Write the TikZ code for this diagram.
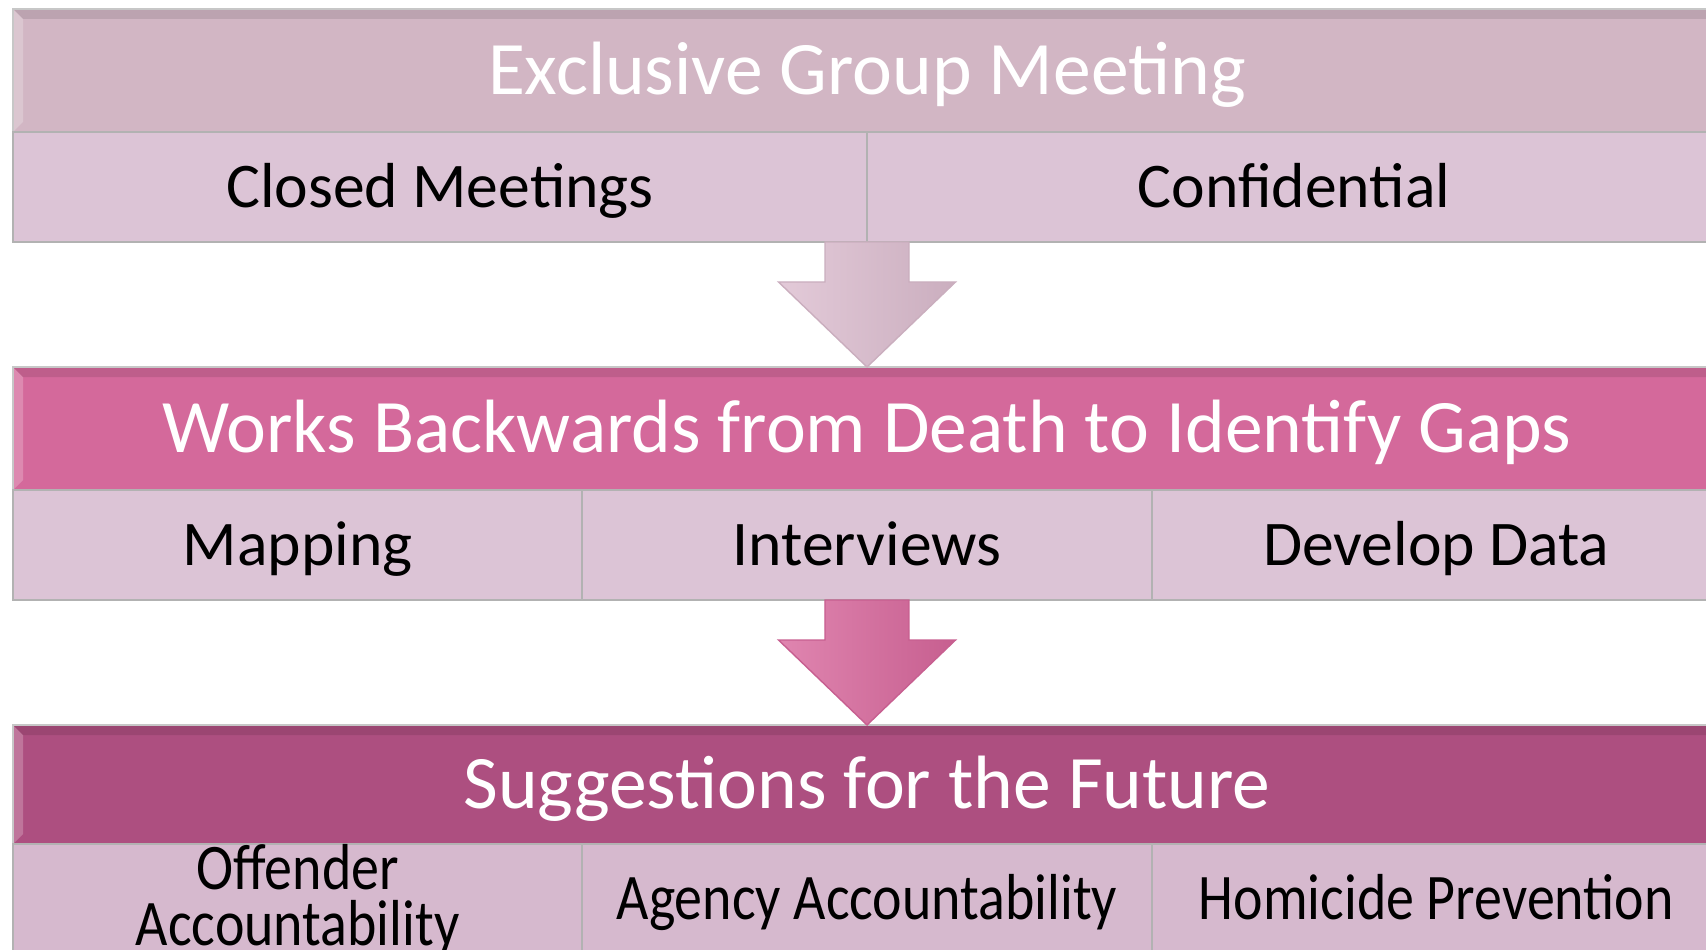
\documentclass[tikz,border=0pt]{standalone}
\usepackage{fontspec}
\setmainfont{Carlito}
\usetikzlibrary{positioning,calc}

\definecolor{headA}{HTML}{D2B6C4}
\definecolor{headB}{HTML}{D4699B}
\definecolor{headC}{HTML}{AD4F80}
\definecolor{cellA}{HTML}{DCC4D6}
\definecolor{cellC}{HTML}{D6B9CE}
\definecolor{arrowA}{HTML}{DCBDCF}
\definecolor{arrowB}{HTML}{D8679C}

\tikzset{
  head/.style={rectangle, draw=black!22, line width=0.6pt, outer sep=0pt,
    minimum width=17.08cm, text=white, text height=15pt, text depth=1.2pt,
    font=\fontsize{21.5}{24}\selectfont,
    path picture={
      \fill[white, opacity=0.22] (path picture bounding box.south west) -- (path picture bounding box.north west)
        -- ++(0.1,-0.1) -- ($(path picture bounding box.south west)+(0.1,0.1)$) -- cycle;
      \fill[black, opacity=0.10] (path picture bounding box.north west) -- (path picture bounding box.north east)
        -- ++(-0.1,-0.1) -- ($(path picture bounding box.north west)+(0.1,-0.1)$) -- cycle;
    }},
  cell/.style={rectangle, draw=black!30, line width=0.6pt, outer sep=0pt,
    minimum height=1.10cm, text=black, align=center,
    font=\fontsize{18.1}{16}\selectfont},
  single/.style={cell, text height=13pt, text depth=1.4pt},
  half/.style={single, minimum width=8.54cm},
  third/.style={single, minimum width=5.693cm},
  narrow/.style={font=\fontsize{18.5}{16}\selectfont\addfontfeature{FakeStretch=0.86}},
}

\begin{document}
\begin{tikzpicture}

  \useasboundingbox (0,0) rectangle (17.06,-9.50);

  % Define nodes
  \node[head, fill=headA, minimum height=1.23cm, anchor=north west] at (0.13,-0.09) (h1) {Exclusive Group Meeting};
  \node[half, fill=cellA, below=0pt of h1.south west, anchor=north west] (c11) {Closed Meetings};
  \node[half, fill=cellA, right=0pt of c11]                             (c12) {Confidential};

  \node[head, fill=headB, minimum height=1.23cm, below=1.25cm of c11.south west, anchor=north west] (h2) {Works Backwards from Death to Identify Gaps};
  \node[third, fill=cellA, below=0pt of h2.south west, anchor=north west] (c21) {Mapping};
  \node[third, fill=cellA, right=0pt of c21]                             (c22) {Interviews};
  \node[third, fill=cellA, right=0pt of c22]                             (c23) {Develop Data};

  \node[head, fill=headC, minimum height=1.19cm, below=1.25cm of c21.south west, anchor=north west] (h3) {Suggestions for the Future};
  \node[cell, narrow, fill=cellC, minimum width=5.693cm, inner ysep=0pt, below=0pt of h3.south west, anchor=north west] (c31) {Offender\\Accountability};
  \node[third, narrow, fill=cellC, right=0pt of c31.north east, anchor=north west] (c32) {Agency Accountability};
  \node[third, narrow, fill=cellC, right=0pt of c32]                               (c33) {Homicide Prevention};

  % Connect the nodes
  \foreach \from/\to/\col in {c11.south east/h2/arrowA, c22.south/h3/arrowB} {
    \shade[left color=\col!80!white, middle color=\col, right color=\col!92!black, draw=\col!92!black, line width=0.4pt]
      ($(\from)+(-0.42,0)$) -- ($(\to.north)+(-0.42,0.85)$) -- ($(\to.north)+(-0.885,0.85)$)
      -- (\to.north) -- ($(\to.north)+(0.885,0.85)$) -- ($(\to.north)+(0.42,0.85)$)
      -- ($(\from)+(0.42,0)$) -- cycle;
  }

\end{tikzpicture}
\end{document}
